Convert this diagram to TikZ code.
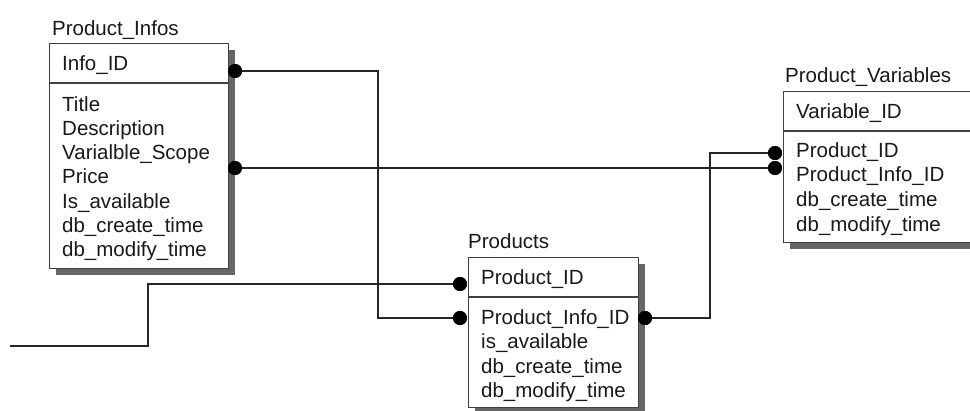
\documentclass[tikz,border=0pt]{standalone}
\usepackage{fontspec}
\setmainfont{Liberation Sans}
\usetikzlibrary{shadows,calc}
\begin{document}
\begin{tikzpicture}[x=1pt,y=-1pt,
  tbl/.style={draw=black!75, line width=1.4pt, fill=white, rectangle, inner sep=0pt,
    anchor=north west,
    drop shadow={shadow xshift=6pt, shadow yshift=-6pt, fill=black!60, opacity=1}},
  rule/.style={draw=black!75, line width=1.4pt},
  field/.style={anchor=base west, inner sep=0pt, text=black!90,
    font=\fontsize{20.5}{24}\selectfont},
  conn/.style={draw=black!85, line width=1.7pt},
  knob/.style={circle, fill=black, inner sep=0pt, minimum size=14pt}
]
\useasboundingbox (0,0) rectangle (970,410);
\clip (0,0) rectangle (970,410);
\fill[white] (0,0) rectangle (970,410);

% ---------- helper coordinates for the connector bends ----------
\coordinate (lead) at (10,346);
\coordinate (bendA) at (378,0);
\coordinate (bendB) at (710,0);
\coordinate (bendC) at (148,0);

% ---------- Product_Infos ----------
\node[tbl, minimum width=179pt, minimum height=225pt] (infos) at (49,43) {};
\draw[rule] (infos.west |- 0,83) -- (infos.east |- 0,83);
\node[field] (infos-t) at (52,35) {Product\_Infos};
\node[field] (infos-k) at (62,70) {Info\_ID};
\foreach \txt [count=\i from 0] in {Title,Description,Varialble\_Scope,Price,Is\_available,db\_create\_time,db\_modify\_time}
  \node[field] (infos-\i) at (62,111+24.33*\i) {\txt};

% ---------- Products ----------
\node[tbl, minimum width=170pt, minimum height=150pt] (prod) at (468,257) {};
\draw[rule] (prod.west |- 0,297) -- (prod.east |- 0,297);
\node[field] (prod-t) at (468,248) {Products};
\node[field] (prod-k) at (481,284) {Product\_ID};
\foreach \txt [count=\i from 0] in {Product\_Info\_ID,is\_available,db\_create\_time,db\_modify\_time}
  \node[field] (prod-\i) at (481,324+24.5*\i) {\txt};

% ---------- Product_Variables ----------
\node[tbl, minimum width=230pt, minimum height=151pt] (vars) at (783,91) {};
\draw[rule] (vars.west |- 0,131) -- (vars.east |- 0,131);
\node[field] (vars-t) at (785,82) {Product\_Variables};
\node[field] (vars-k) at (796,118) {Variable\_ID};
\foreach \txt [count=\i from 0] in {Product\_ID,Product\_Info\_ID,db\_create\_time,db\_modify\_time}
  \node[field] (vars-\i) at (796,157+24.7*\i) {\txt};

% ---------- relationship end points ----------
\node[knob] (k-infos-id)    at (235,71)  {};
\node[knob] (k-infos-scope) at (235,168) {};
\node[knob] (k-prod-id)     at (460,284) {};
\node[knob] (k-prod-info)   at (460,318) {};
\node[knob] (k-prod-out)    at (645,318) {};
\node[knob] (k-vars-prod)   at (775,153) {};
\node[knob] (k-vars-info)   at (775,168) {};

% ---------- relationship lines ----------
\draw[conn] (k-infos-id.center) -- (k-infos-id.center -| bendA) |- (k-prod-info.center);
\draw[conn] (k-infos-scope.center) -- (k-vars-info.center);
\draw[conn] (k-prod-out.center) -- (k-prod-out.center -| bendB) |- (k-vars-prod.center);
\draw[conn] (lead) -- (lead -| bendC) |- (k-prod-id.center);

% dots on top of the lines
\foreach \k in {k-infos-id,k-infos-scope,k-prod-id,k-prod-info,k-prod-out,k-vars-prod,k-vars-info}
  \fill[black] (\k) circle (7pt);
\end{tikzpicture}
\end{document}
